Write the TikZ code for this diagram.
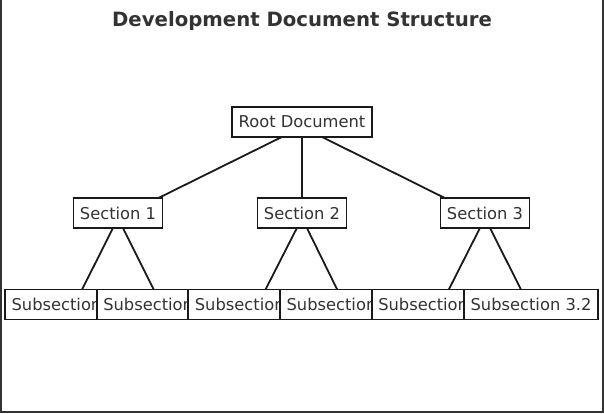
\documentclass[tikz,border=0pt]{standalone}
\usepackage{fontspec}
\setmainfont{DejaVu Sans}
\usetikzlibrary{backgrounds}
\definecolor{txt}{HTML}{333333}
\definecolor{edge}{HTML}{1A1A1A}
\tikzset{
  docbox/.style={draw=edge, line width=1.8pt, fill=white, text=txt,
    minimum height=30pt, inner xsep=6.5pt, inner ysep=0pt,
    font=\fontsize{16.3}{19}\selectfont},
  link/.style={draw=edge, line width=1.8pt},
  framel/.style={draw=black!80, line width=1.8pt}
}
\begin{document}
\begin{tikzpicture}[x=1pt,y=-1pt]
\useasboundingbox (0,0) rectangle (604,413);
\draw[framel] (0.9,0) -- (0.9,412.1) -- (603.1,412.1) -- (603.1,0);
\node[text=txt, font=\fontsize{19.7}{24}\selectfont\bfseries, anchor=base] (title) at (302,26) {Development Document Structure};
\node[docbox] (root) at (302,122) {Root Document};
\node[docbox] (s1) at (118,213) {Section 1};
\node[docbox] (s2) at (302,213) {Section 2};
\node[docbox] (s3) at (485,213) {Section 3};
\node[docbox] (s11) at (72,304.5) {Subsection 1.1};
\node[docbox] (s12) at (163.7,304.5) {Subsection 1.2};
\node[docbox] (s21) at (255.3,304.5) {Subsection 2.1};
\node[docbox] (s22) at (347,304.5) {Subsection 2.2};
\node[docbox] (s31) at (438.7,304.5) {Subsection 3.1};
\node[docbox] (s32) at (531,304.5) {Subsection 3.2};
\begin{scope}[on background layer]
\foreach \p/\c in {root/s1, root/s2, root/s3, s1/s11, s1/s12, s2/s21, s2/s22, s3/s31, s3/s32}
  \draw[link] ([yshift=-5pt]\p.center) -- ([yshift=-5pt]\c.center);
\end{scope}
\end{tikzpicture}
\end{document}
